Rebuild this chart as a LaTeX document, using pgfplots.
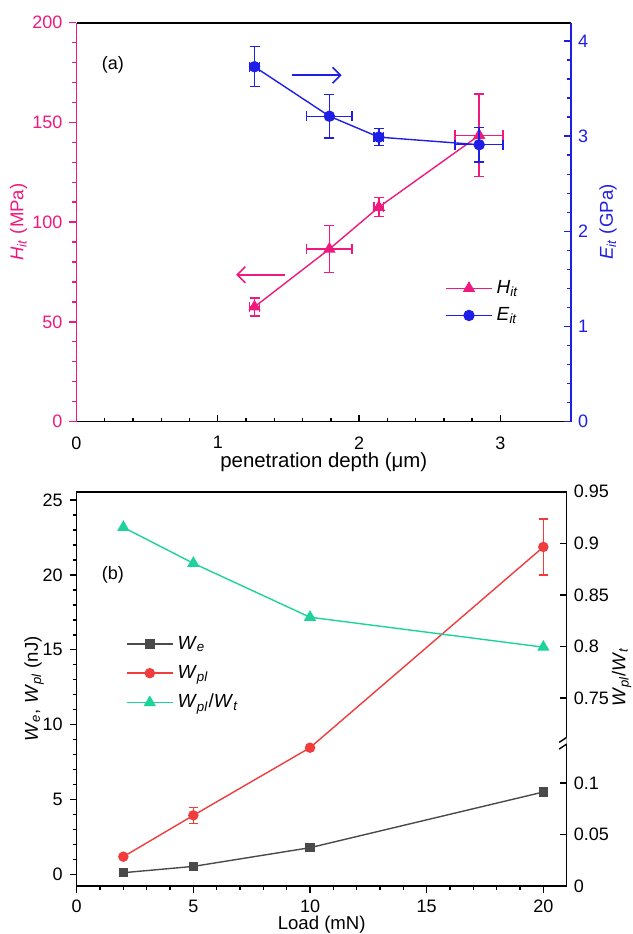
\documentclass[border=0pt]{standalone}
\usepackage{fontspec}
\setmainfont{Liberation Sans}
\usepackage{pgfplots}
\pgfplotsset{compat=1.18}
\usetikzlibrary{arrows.meta}
\definecolor{hpink}{HTML}{F0197D}
\definecolor{eblue}{HTML}{1E1EE6}
\definecolor{wred}{HTML}{F03C3C}
\definecolor{wgreen}{HTML}{1DD39B}
\definecolor{wgrey}{HTML}{4A4A4A}
\newcommand{\sub}[2]{\textit{#1}\textsubscript{\textit{#2}}}

\pgfplotsset{
  every axis/.append style={
    scale only axis,
    font=\fontsize{9}{10.8}\selectfont,
    label style={font=\fontsize{9.3}{11}\selectfont},
    /pgf/number format/assume math mode=true,
    axis line style={line width=0.8pt},
    major tick length=3.5pt, minor tick length=2pt,
    every axis plot/.append style={line width=0.7pt},
  },
  pa/.style={at={(38.25pt,-11.35pt)}, anchor=north west,
    width=247.25pt, height=199.4pt, xmin=0, xmax=3.5},
  pb/.style={at={(38.35pt,-245.85pt)}, anchor=north west,
    width=245pt, height=197.15pt, xmin=0, xmax=21},
  ebars/.style={error bars/.cd, x dir=both, x explicit, y dir=both, y explicit,
    error bar style={line width=0.7pt},
    error mark options={rotate=90, mark size=2.5pt, line width=0.7pt}},
  leftlab/.style={ylabel style={at={([xshift=-#1]axis description cs:0,0.5)}, anchor=center}},
  rightlab/.style 2 args={ylabel style={at={([xshift=#1]axis description cs:1,#2)}, anchor=center}},
}

\begin{document}
\begin{tikzpicture}
\useasboundingbox (0,0) rectangle (316.5pt,-467pt);

% ---- panel (a): frame and x axis
\begin{axis}[pa, ymin=0, ymax=200,
  xtick={0,1,2,3}, minor x tick num=4, ytick=\empty,
  tick align=inside, xtick pos=bottom,
  separate axis lines,
  x axis line style={black}, y axis line style={hpink},
  tick style={black, line width=0.7pt},
  xticklabel style={yshift=-4pt},
  xlabel={penetration depth (μm)},
  xlabel style={font=\fontsize{10.2}{12}\selectfont,
    at={(axis description cs:0.5,0)}, anchor=base, yshift=-22.9pt}]
\node at (axis cs:0.258,178.7) {(a)};
\end{axis}

% ---- panel (a): hardness, left axis
\begin{axis}[pa, ymin=0, ymax=200,
  axis x line=none, axis y line*=left, tick align=outside,
  ytick={0,50,...,200}, minor y tick num=4,
  y axis line style={hpink}, tick style={hpink, line width=0.7pt},
  yticklabel style={text=hpink},
  ylabel={\sub{H}{it} (MPa)}, leftlab=29pt, ylabel style={text=hpink}]
\addplot[hpink, mark=triangle*, mark size=2.9pt, ebars] coordinates {
  (1.26,57.5) +- (0.035,4.5)
  (1.79,86.5) +- (0.16,11.8)
  (2.14,107.5) +- (0.035,4.8)
  (2.85,143.5) +- (0.17,20.7)
};
\draw[hpink, line width=0.8pt, -{Straight Barb[length=4pt,width=8pt]}]
  (axis cs:1.475,73.6) -- (axis cs:1.13,73.6);
\end{axis}

% ---- panel (a): modulus, right axis
\begin{axis}[pa, ymin=0, ymax=4.193,
  axis x line=none, axis y line*=right, tick align=inside,
  ytick={0,1,2,3,4}, minor y tick num=4,
  y axis line style={eblue}, tick style={eblue, line width=0.7pt},
  yticklabel style={text=eblue},
  ylabel={\sub{E}{it} (GPa)}, rightlab={18.5pt}{0.5}, ylabel style={text=eblue},
  legend image code/.code={\draw[mark repeat=2,mark phase=2,#1]
    plot coordinates {(0pt,0pt)(11.5pt,0pt)(23pt,0pt)};},
  legend style={at={(rel axis cs:0.745,0.365)}, anchor=north west,
    draw=none, fill=none, inner sep=0pt, row sep=1.5pt,
    font=\fontsize{9.5}{11}\selectfont},
  legend cell align=left]
\addlegendimage{hpink, mark=triangle*, mark size=2.9pt, line width=0.7pt}
\addlegendentry{\sub{H}{it}}
\addplot[eblue, mark=*, mark size=2.5pt, ebars] coordinates {
  (1.26,3.73) +- (0.035,0.21)
  (1.79,3.21) +- (0.16,0.23)
  (2.14,2.99) +- (0.035,0.09)
  (2.85,2.91) +- (0.17,0.18)
};
\addlegendentry{\sub{E}{it}}
\draw[eblue, line width=0.8pt, -{Straight Barb[length=4pt,width=8pt]}]
  (axis cs:1.523,3.641) -- (axis cs:1.877,3.641);
\end{axis}

% ---- panel (b): work, left axis
\begin{axis}[pb, ymin=-0.78, ymax=25.56,
  xtick={0,5,...,20}, minor x tick num=4,
  ytick={0,5,...,25}, minor y tick num=4,
  tick align=outside, xtick pos=bottom, ytick pos=left,
  tick style={black, line width=0.7pt},
  xlabel={Load (mN)},
  xlabel style={at={(axis description cs:0.5,0)}, anchor=base, yshift=-21.5pt},
  ylabel={\sub{W}{e}, \sub{W}{pl} (nJ)}, leftlab=21.3pt]
\addplot[wgrey, mark=square*, mark size=2pt] coordinates {
  (2,0.11) (5,0.53) (10,1.78) (20,5.5)};
\addplot[wred, mark=*, mark size=2.25pt,
  error bars/.cd, y dir=both, y explicit,
  error bar style={line width=0.6pt},
  error mark options={rotate=90, mark size=2.2pt, line width=0.6pt}] coordinates {
  (2,1.18) +- (0,0)
  (5,3.94) +- (0,0.53)
  (10,8.46) +- (0,0.2)
  (20,21.87) +- (0,1.87)};
\node at (axis cs:1.55,20) {(b)};
\end{axis}

% ---- panel (b): ratio, broken right axis
\begin{axis}[pb, ymin=0, ymax=0.3823,
  axis x line=none, axis y line*=right, tick align=inside,
  ytick={0,0.05,0.1,0.1823,0.2323,0.2823,0.3323,0.3823},
  yticklabels={0,0.05,0.1,0.75,0.8,0.85,0.9,0.95},
  minor y tick num=0, tick style={black, line width=0.7pt},
  ylabel={\sub{W}{pl}/\sub{W}{t}}, rightlab={27.5pt}{0.53},
  legend image code/.code={\draw[mark repeat=2,mark phase=2,#1]
    plot coordinates {(0pt,0pt)(11.5pt,0pt)(23pt,0pt)};},
  legend style={at={(rel axis cs:0.1,0.645)}, anchor=north west,
    draw=none, fill=none, inner sep=0pt, row sep=2.5pt,
    font=\fontsize{9.5}{11}\selectfont},
  legend cell align=left]
\addlegendimage{wgrey, mark=square*, mark size=2pt, line width=0.7pt}
\addlegendentry{\sub{W}{e}}
\addlegendimage{wred, mark=*, mark size=2.25pt, line width=0.7pt}
\addlegendentry{\sub{W}{pl}}
\addplot[wgreen, mark=triangle*, mark size=2.9pt,
  y filter/.expression={y-0.5677}] coordinates {
  (2,0.9154) (5,0.8806) (10,0.8283) (20,0.7993)};
\addlegendentry{\sub{W}{pl}/\sub{W}{t}}
\fill[white] ([xshift=-1pt]rel axis cs:1,0.360) rectangle ([xshift=1pt]rel axis cs:1,0.377);
\draw[line width=0.7pt] ([xshift=-3.75pt,yshift=-2.5pt]rel axis cs:1,0.360) -- ++(7.5pt,5pt);
\draw[line width=0.7pt] ([xshift=-3.75pt,yshift=-2.5pt]rel axis cs:1,0.377) -- ++(7.5pt,5pt);
\end{axis}
\end{tikzpicture}
\end{document}
